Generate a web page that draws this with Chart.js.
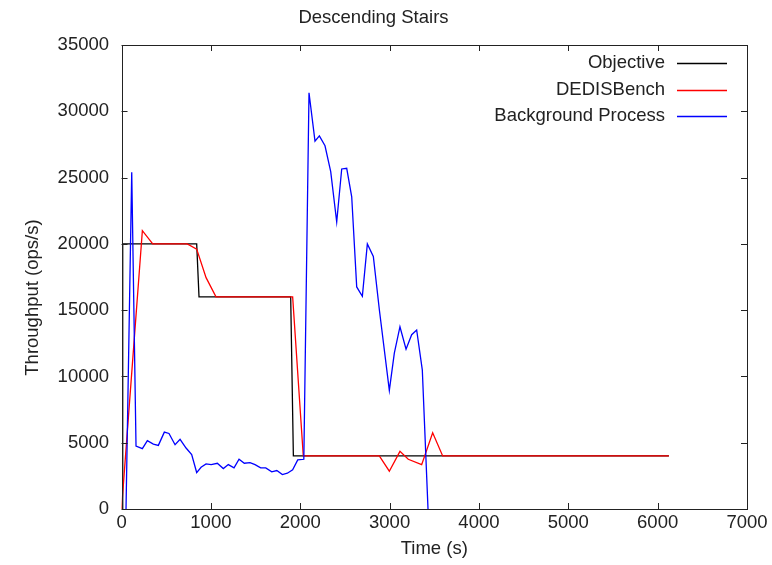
<!DOCTYPE html>
<html>
<head>
<meta charset="utf-8">
<title>Descending Stairs</title>
<script src="https://cdn.jsdelivr.net/npm/chart.js@4.4.0/dist/chart.umd.min.js"></script>
<style>
  html, body { margin: 0; padding: 0; background: #fff; }
  #wrap { width: 772px; height: 565px; }
</style>
</head>
<body>
<div id="wrap"><canvas id="stairs_plot" width="772" height="565"></canvas></div>
<script>
// values (time in seconds, throughput in ops/s)
var objectiveTime  = [13, 13, 841, 867, 1893, 1923, 6126];
var objectiveValue = [0, 20000, 20000, 16000, 16000, 4000, 4000];

var dedisTime  = [0, 233, 349, 736, 841, 946, 1057, 1915, 2034, 2885, 2997, 3116, 3209, 3359, 3482, 3594, 6126];
var dedisValue = [0, 21000, 20000, 20000, 19600, 17450, 16000, 16000, 4000, 4000, 2850, 4350, 3750, 3350, 5750, 4000, 4000];

var bgTime  = [50, 114, 162, 233, 289, 356, 412, 479, 531, 599, 655, 722, 785, 841, 890, 946, 1003, 1072,
               1139, 1195, 1259, 1315, 1374, 1438, 1494, 1557, 1614, 1681, 1738, 1800, 1856, 1915, 1972, 2040,
               2098, 2165, 2214, 2277, 2341, 2408, 2464, 2520, 2576, 2632, 2695, 2751, 2818, 2885, 2997, 3053,
               3116, 3184, 3247, 3303, 3366, 3430];
var bgValue = [0, 25400, 4750, 4550, 5150, 4900, 4800, 5800, 5700, 4850, 5250, 4600, 4100, 2750, 3150, 3400, 3350, 3450,
               3050, 3350, 3100, 3750, 3450, 3500, 3350, 3100, 3100, 2800, 2900, 2600, 2700, 2950, 3700, 3750,
               31400, 27750, 28150, 27400, 25450, 21650, 25650, 25700, 23550, 16750, 16050, 20000, 19050, 15050, 8950, 11750,
               13750, 12050, 13150, 13500, 10500, 0];

var xTicks = [0, 1000, 2000, 3000, 4000, 5000, 6000, 7000];
var yTicks = [0, 5000, 10000, 15000, 20000, 25000, 30000, 35000];

function toPoints(xs, ys) {
    return xs.map(function(x, i) { return {x: x, y: ys[i]}; });
}

var fontFamily = '"Liberation Sans", Arial, Helvetica, sans-serif';
var textColor = '#222';

// gnuplot style frame: box round the plot, ticks pointing inwards on all four sides,
// and a key in the top right corner with the sample line after the text
var gnuplotFrame = {
    id: 'gnuplotFrame',
    beforeDraw: function(chart) {
        var ctx = chart.ctx;
        ctx.save();
        ctx.fillStyle = '#fff';
        ctx.fillRect(0, 0, chart.width, chart.height);
        ctx.restore();
    },
    afterDatasetsDraw: function(chart) {
        var ctx = chart.ctx;
        var a = chart.chartArea;
        var xs = chart.scales.x, ys = chart.scales.y;
        var len = 6;
        ctx.save();
        ctx.strokeStyle = '#222';
        ctx.lineWidth = 1;
        ctx.beginPath();
        xTicks.forEach(function(v) {
            var px = Math.round(xs.getPixelForValue(v)) + 0.5;
            ctx.moveTo(px, a.bottom); ctx.lineTo(px, a.bottom - len);
            ctx.moveTo(px, a.top); ctx.lineTo(px, a.top + len);
        });
        yTicks.forEach(function(v) {
            var py = Math.round(ys.getPixelForValue(v)) + 0.5;
            ctx.moveTo(a.left, py); ctx.lineTo(a.left + len, py);
            ctx.moveTo(a.right, py); ctx.lineTo(a.right - len, py);
        });
        ctx.stroke();
        ctx.strokeRect(Math.round(a.left) + 0.5, Math.round(a.top) + 0.5,
                       Math.round(a.right - a.left), Math.round(a.bottom - a.top));

        // key
        var keyOrder = [0, 1, 2];
        ctx.font = '18.5px ' + fontFamily;
        ctx.textAlign = 'right';
        ctx.textBaseline = 'middle';
        keyOrder.forEach(function(i, row) {
            var ds = chart.data.datasets[i];
            var y = a.top + 18 + row * 26.5;
            ctx.fillStyle = textColor;
            ctx.fillText(ds.label, a.right - 82, y);
            ctx.strokeStyle = ds.borderColor;
            ctx.lineWidth = 1.3;
            ctx.beginPath();
            ctx.moveTo(a.right - 70, Math.round(y) + 0.5);
            ctx.lineTo(a.right - 20, Math.round(y) + 0.5);
            ctx.stroke();
        });
        ctx.restore();
    }
};

var ctx = document.getElementById('stairs_plot');

var data = {
    datasets: [
        {
            label: 'Objective',
            data: toPoints(objectiveTime, objectiveValue),
            borderColor: '#000000',
            borderWidth: 1.3,
            order: 3
        },
        {
            label: 'DEDISBench',
            data: toPoints(dedisTime, dedisValue),
            borderColor: '#ff0000',
            borderWidth: 1.3,
            order: 2
        },
        {
            label: 'Background Process',
            data: toPoints(bgTime, bgValue),
            borderColor: '#0000ff',
            borderWidth: 1.3,
            order: 1
        }
    ]
};

var config = {
    type: 'line',
    data: data,
    plugins: [gnuplotFrame],
    options: {
        responsive: false,
        animation: false,
        devicePixelRatio: 1,
        elements: {
            point: { radius: 0 },
            line: { tension: 0, fill: false }
        },
        layout: {
            padding: { left: 0, right: 25, top: 0, bottom: 0 }
        },
        plugins: {
            legend: { display: false },
            tooltip: { enabled: false },
            title: {
                display: true,
                text: 'Descending Stairs',
                color: textColor,
                font: { family: fontFamily, size: 18.5, weight: 'normal' },
                padding: { top: 7, bottom: 15.8 }
            }
        },
        scales: {
            x: {
                type: 'linear',
                min: 0,
                max: 7000,
                grid: { display: false, drawTicks: false },
                border: { display: false },
                afterBuildTicks: function(scale) {
                    scale.ticks = xTicks.map(function(v) { return {value: v}; });
                },
                ticks: {
                    color: textColor,
                    padding: 3,
                    maxRotation: 0,
                    font: { family: fontFamily, size: 18.5 },
                    callback: function(v) { return String(v); }
                },
                title: {
                    display: true,
                    text: 'Time (s)',
                    color: textColor,
                    font: { family: fontFamily, size: 18.5 },
                    padding: { top: 0.6, bottom: 5 }
                }
            },
            y: {
                type: 'linear',
                min: 0,
                max: 35000,
                grid: { display: false, drawTicks: false },
                border: { display: false },
                afterBuildTicks: function(scale) {
                    scale.ticks = yTicks.map(function(v) { return {value: v}; });
                },
                ticks: {
                    color: textColor,
                    padding: 12.5,
                    font: { family: fontFamily, size: 18.5 },
                    callback: function(v) { return String(v); }
                },
                title: {
                    display: true,
                    // trailing spaces push the label a little below the middle, as in the original
                    text: 'Throughput (ops/s)        ',
                    color: textColor,
                    font: { family: fontFamily, size: 18.5 },
                    padding: { top: 22, bottom: 0.9 }
                }
            }
        }
    }
};

new Chart(ctx, config);
</script>
</body>
</html>
